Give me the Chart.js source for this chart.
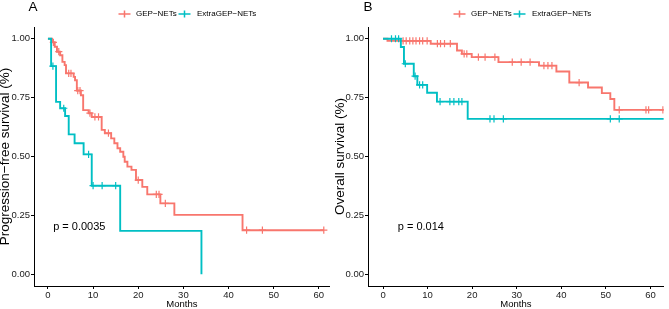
<!DOCTYPE html>
<html>
<head>
<meta charset="utf-8">
<script src="https://cdn.jsdelivr.net/npm/chart.js@4.4.0/dist/chart.umd.min.js"></script>
<style>
  html, body { margin: 0; padding: 0; background: #fff; }
  body { width: 669px; height: 309px; position: relative; overflow: hidden; }
  .panel { position: absolute; top: 0; height: 309px; }
</style>
</head>
<body>
<div class="panel" style="left:0;width:335px"><canvas id="chartA" width="335" height="309"></canvas></div>
<div class="panel" style="left:335px;width:334px"><canvas id="chartB" width="334" height="309"></canvas></div>
<script>
// values
const groups = ["GEP\u2212NETs", "ExtraGEP\u2212NETs"];
const groupColors = ["#F8766D", "#00BFC4"];
const monthTicks = [0, 10, 20, 30, 40, 50, 60];
const survTicks = [0, 0.25, 0.5, 0.75, 1];

// A - progression-free survival
const pfsGepTime   = [0, 0.9, 1.5, 2.0, 2.7, 3.2, 3.7, 4.0, 5.7, 6.0, 6.4, 7.3, 7.8, 9.0, 9.7, 11.9, 12.6, 14.0, 14.7, 15.4, 16.0, 16.7, 17.0, 17.6, 18.5, 19.5, 20.9, 22.0, 24.9, 28.0, 43.1, 61.1];
const pfsGepSurv   = [1, 0.985, 0.966, 0.945, 0.930, 0.902, 0.888, 0.853, 0.838, 0.824, 0.780, 0.760, 0.697, 0.684, 0.668, 0.613, 0.599, 0.577, 0.556, 0.535, 0.520, 0.499, 0.478, 0.457, 0.443, 0.400, 0.371, 0.339, 0.301, 0.252, 0.187, 0.187];
const pfsGepCensor = [1.2, 2.4, 4.6, 5.1, 6.6, 7.1, 9.3, 10.4, 11.2, 13.4, 20.0, 24.0, 24.6, 26.0, 44.0, 47.5, 61.1];
const pfsExtraTime   = [0, 0.7, 1.8, 2.7, 3.8, 4.6, 5.9, 7.9, 9.7, 16.0, 34.0];
const pfsExtraSurv   = [1, 0.884, 0.732, 0.705, 0.672, 0.594, 0.556, 0.509, 0.376, 0.184, 0];
const pfsExtraCensor = [1.1, 3.5, 9.0, 10.0, 12.0, 15.0];

// B - overall survival
const osGepTime   = [0, 1.0, 10.7, 16.6, 17.7, 19.9, 25.9, 35.0, 38.9, 41.8, 46.0, 49.1, 51.0, 51.9, 63.0];
const osGepSurv   = [1, 0.991, 0.979, 0.950, 0.936, 0.922, 0.901, 0.886, 0.861, 0.814, 0.793, 0.769, 0.744, 0.698, 0.698];
const osGepCensor = [4.5, 5.2, 6.0, 6.7, 7.4, 8.2, 8.9, 9.9, 12.2, 12.9, 13.8, 15.1, 18.2, 18.8, 21.4, 22.9, 25.1, 29.0, 31.0, 33.0, 36.1, 37.0, 37.9, 44.0, 53.0, 59.0, 59.6, 62.8];
const osExtraTime   = [0, 4.0, 4.7, 6.9, 7.7, 9.9, 12.1, 19.0, 63.0];
const osExtraSurv   = [1, 0.965, 0.894, 0.841, 0.804, 0.771, 0.733, 0.660, 0.660];
const osExtraCensor = [1.9, 2.8, 3.5, 5.0, 7.2, 8.2, 8.9, 12.8, 15.0, 15.9, 17.0, 17.7, 24.0, 24.9, 27.0, 51.0, 53.0];

const FONT = "'Liberation Sans', Arial, Helvetica, sans-serif";

function survAt(times, surv, t) {
  let s = surv[0];
  for (let i = 0; i < times.length; i++) if (times[i] <= t) s = surv[i];
  return s;
}

function curveSets(times, surv, censor, color, order) {
  return [{
    data: times.map((t, i) => ({x: t, y: surv[i]})),
    showLine: true, stepped: true, borderColor: color, borderWidth: 1.9,
    pointRadius: 0, fill: false, order: order
  }, {
    data: censor.map(t => ({x: t, y: survAt(times, surv, t)})),
    showLine: false, pointStyle: 'cross', pointRadius: 3.6,
    borderColor: color, borderWidth: 1.2, order: order
  }];
}

function decorations(letter, pText, pMonth) {
  return {
    id: 'deco' + letter,
    afterDraw(chart) {
      const ctx = chart.ctx;
      const xs = chart.scales.x, ys = chart.scales.y;
      ctx.save();
      ctx.fillStyle = '#000';
      ctx.textBaseline = 'middle';
      ctx.font = '13.5px ' + FONT;
      ctx.textAlign = 'center';
      ctx.fillText(letter, 33, 7);

      // legend
      const keys = [124.5, 184.5], labels = [136, 197];
      ctx.font = '8px ' + FONT;
      ctx.textAlign = 'left';
      groups.forEach((g, i) => {
        ctx.strokeStyle = groupColors[i];
        ctx.lineWidth = 1.5;
        ctx.beginPath();
        ctx.moveTo(keys[i] - 6, 14); ctx.lineTo(keys[i] + 6, 14);
        ctx.moveTo(keys[i], 10.5); ctx.lineTo(keys[i], 17.5);
        ctx.stroke();
        ctx.fillStyle = '#000';
        ctx.fillText(g, labels[i], 14);
      });

      // log-rank p value
      ctx.font = '11px ' + FONT;
      ctx.fillText(pText, xs.getPixelForValue(pMonth), ys.getPixelForValue(0.2));
      ctx.restore();
    }
  };
}

function makeChart(id, letter, yTitle, gep, extra, pText, pMonth, xMin, xMax, yWidth, padRight) {
  return new Chart(document.getElementById(id), {
    type: 'scatter',
    data: {
      datasets: [
        ...curveSets(extra[0], extra[1], extra[2], groupColors[1], 0),
        ...curveSets(gep[0], gep[1], gep[2], groupColors[0], 1)
      ]
    },
    options: {
      responsive: false,
      animation: false,
      events: [],
      layout: { padding: { top: 27, right: padRight, left: 0, bottom: 0 } },
      plugins: { legend: { display: false }, tooltip: { enabled: false } },
      scales: {
        x: {
          type: 'linear', min: xMin, max: xMax,
          afterBuildTicks: s => { s.ticks = monthTicks.map(v => ({value: v})); },
          afterFit: s => { s.height = 23; },
          ticks: { color: '#1a1a1a', font: { size: 9.5, family: FONT }, padding: 1, maxRotation: 0, autoSkip: false },
          grid: { drawOnChartArea: false, tickLength: 3, color: '#000' },
          border: { color: '#000', width: 1 },
          title: { display: true, text: 'Months', color: '#000', font: { size: 9.5, family: FONT, lineHeight: 1 }, padding: 0 }
        },
        y: {
          min: -0.05, max: 1.05,
          afterBuildTicks: s => { s.ticks = survTicks.map(v => ({value: v})); },
          afterFit: s => { s.width = yWidth; },
          ticks: { color: '#1a1a1a', font: { size: 9.5, family: FONT }, padding: 1, callback: v => v.toFixed(2) },
          grid: { drawOnChartArea: false, tickLength: 3, color: '#000' },
          border: { color: '#000', width: 1 },
          title: { display: true, text: yTitle, color: '#000', font: { size: 13.5, family: FONT, lineHeight: 0.8 }, padding: 0 }
        }
      }
    },
    plugins: [decorations(letter, pText, pMonth)]
  });
}

makeChart('chartA', 'A', 'Progression\u2212free survival (%)',
  [pfsGepTime, pfsGepSurv, pfsGepCensor], [pfsExtraTime, pfsExtraSurv, pfsExtraCensor],
  'p = 0.0035', 1.15, -3.09, 62.43, 34, 4);
makeChart('chartB', 'B', 'Overall survival (%)',
  [osGepTime, osGepSurv, osGepCensor], [osExtraTime, osExtraSurv, osExtraCensor],
  'p = 0.014', 3.3, -3.37, 63.0, 33, 0);
</script>
</body>
</html>
